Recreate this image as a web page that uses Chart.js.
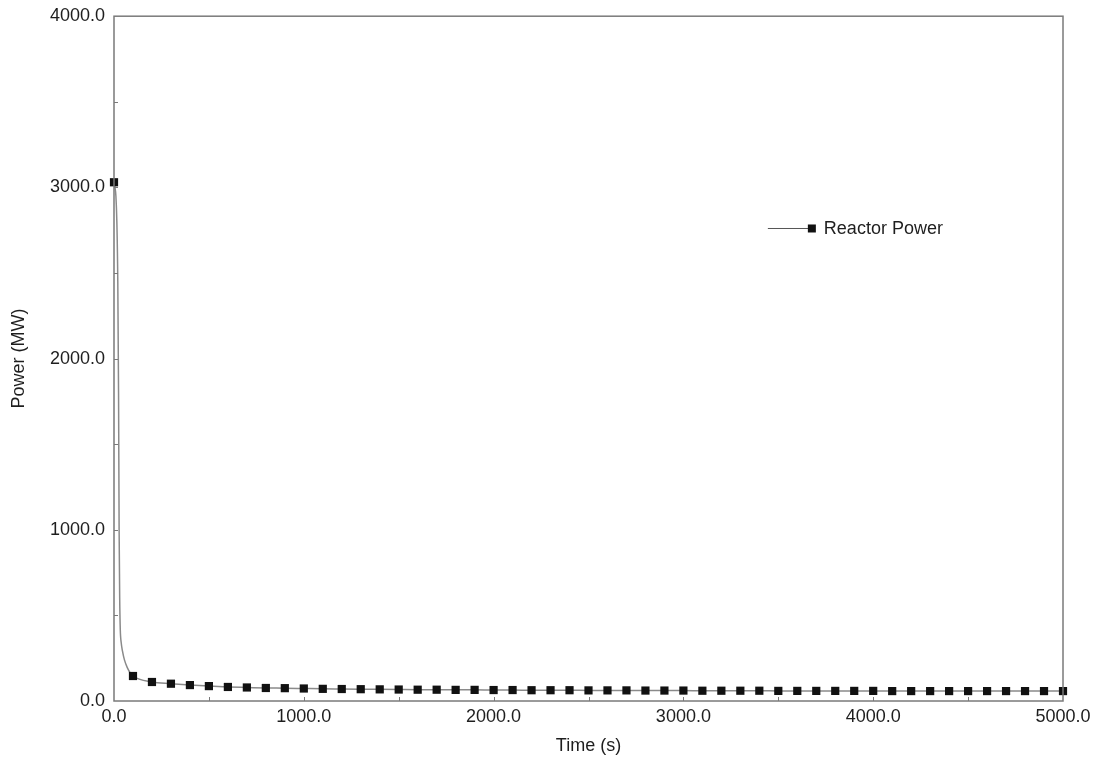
<!DOCTYPE html>
<html>
<head>
<meta charset="utf-8">
<title>Reactor Power</title>
<script src="https://cdn.jsdelivr.net/npm/chart.js@4/dist/chart.umd.min.js"></script>
<style>
  html, body { margin: 0; padding: 0; background: #ffffff; }
  #wrap { width: 1098px; height: 757px; position: relative; }
</style>
</head>
<body>
<div id="wrap"><canvas id="c" width="1098" height="757"></canvas></div>
<script>
// Reactor power transient (MW) versus time (s)
const seriesLabel = 'Reactor Power';

// continuous trace: fast early drop after shutdown
const curveTime  = [0, 5, 10, 15, 20, 24, 27, 30, 33, 38, 45, 55, 70, 85, 100];
const curvePower = [3030, 3000, 2950, 2800, 2450, 1800, 1000, 600, 420, 340, 290, 240, 195, 165, 146];

// sampled markers every 100 s
const markerTime = [0, 100, 200, 300, 400, 500, 600, 700, 800, 900, 1000,
  1100, 1200, 1300, 1400, 1500, 1600, 1700, 1800, 1900, 2000,
  2100, 2200, 2300, 2400, 2500, 2600, 2700, 2800, 2900, 3000,
  3100, 3200, 3300, 3400, 3500, 3600, 3700, 3800, 3900, 4000,
  4100, 4200, 4300, 4400, 4500, 4600, 4700, 4800, 4900, 5000];
const markerPower = [3030, 146, 111, 101, 93, 87, 82, 79, 76, 75, 73,
  71, 70, 69, 68, 67, 66, 66, 65, 65, 64,
  64, 63, 63, 63, 62, 62, 62, 61, 61, 61,
  60, 60, 60, 60, 59, 59, 59, 59, 59, 59,
  58, 58, 58, 58, 58, 58, 58, 58, 58, 58];

const xTicks = [0, 1000, 2000, 3000, 4000, 5000];
const yTicks = [0, 1000, 2000, 3000, 4000];

const lineColor = '#8a8a8a';
const frameColor = '#7a7a7a';
const textColor = '#1e1e1e';
const fontFamily = '"Liberation Sans", Arial, Helvetica, sans-serif';
const fontSize = 18;

// trace beyond the early drop follows the sampled markers
const tracePts = curveTime.map((t, i) => ({x: t, y: curvePower[i]}))
  .concat(markerTime.slice(2).map((t, i) => ({x: t, y: markerPower[i + 2]})));
const markerPts = markerTime.map((t, i) => ({x: t, y: markerPower[i]}));

// frame, inside tick marks and in-plot legend
const framePlugin = {
  id: 'frame',
  afterDatasetsDraw(chart) {
    const {ctx, chartArea: a, scales} = chart;
    ctx.save();
    ctx.strokeStyle = frameColor;
    ctx.lineWidth = 1.5;
    ctx.strokeRect(a.left, a.top, a.right - a.left, a.bottom - a.top);
    ctx.lineWidth = 1;
    for (let v = 500; v < 5000; v += 500) {
      const px = Math.round(scales.x.getPixelForValue(v)) + 0.5;
      ctx.beginPath(); ctx.moveTo(px, a.bottom); ctx.lineTo(px, a.bottom - 4); ctx.stroke();
    }
    for (let v = 500; v < 4000; v += 500) {
      const py = Math.round(scales.y.getPixelForValue(v)) + 0.5;
      ctx.beginPath(); ctx.moveTo(a.left, py); ctx.lineTo(a.left + 4, py); ctx.stroke();
    }
    // legend entry
    const lx = scales.x.getPixelForValue(3445), ly = scales.y.getPixelForValue(2760);
    ctx.strokeStyle = '#555';
    ctx.lineWidth = 1;
    ctx.beginPath(); ctx.moveTo(lx, ly); ctx.lineTo(lx + 42, ly); ctx.stroke();
    ctx.fillStyle = '#111';
    ctx.fillRect(lx + 40, ly - 4, 8, 8);
    ctx.font = fontSize + 'px ' + fontFamily;
    ctx.fillStyle = textColor;
    ctx.textBaseline = 'middle';
    ctx.textAlign = 'left';
    ctx.fillText(seriesLabel, lx + 56, ly + 1);
    ctx.restore();
  }
};

new Chart(document.getElementById('c'), {
  type: 'line',
  data: {
    datasets: [
      {
        label: seriesLabel,
        data: tracePts,
        borderColor: lineColor,
        borderWidth: 1.5,
        pointRadius: 0,
        cubicInterpolationMode: 'monotone',
        fill: false,
        order: 2
      },
      {
        label: seriesLabel + ' markers',
        data: markerPts,
        showLine: false,
        clip: false,
        pointStyle: 'rect',
        pointRadius: 5.8,
        pointBackgroundColor: '#111111',
        pointBorderColor: '#111111',
        pointBorderWidth: 0,
        order: 1
      }
    ]
  },
  options: {
    responsive: false,
    animation: false,
    layout: { padding: { left: 0, right: 35, top: 11, bottom: 0 } },
    plugins: {
      legend: { display: false },
      tooltip: { enabled: false }
    },
    scales: {
      x: {
        type: 'linear',
        min: 0, max: 5000,
        afterBuildTicks: s => { s.ticks = xTicks.map(v => ({value: v})); },
        afterFit: s => { s.height = 56; },
        grid: { display: false, drawTicks: false },
        border: { display: false },
        ticks: {
          color: textColor,
          font: { family: fontFamily, size: fontSize },
          padding: 5,
          maxRotation: 0,
          callback: v => Number(v).toFixed(1)
        },
        title: {
          display: true,
          text: 'Time (s)',
          color: textColor,
          font: { family: fontFamily, size: fontSize },
          padding: { top: 0, bottom: 0 }
        }
      },
      y: {
        type: 'linear',
        min: 0, max: 4000,
        afterBuildTicks: s => { s.ticks = yTicks.map(v => ({value: v})); },
        afterFit: s => { s.width = 114; },
        grid: { display: false, drawTicks: false },
        border: { display: false },
        ticks: {
          color: textColor,
          font: { family: fontFamily, size: fontSize, lineHeight: 0.8 },
          padding: 9,
          callback: v => Number(v).toFixed(1)
        },
        title: {
          display: true,
          text: 'Power (MW)',
          color: textColor,
          font: { family: fontFamily, size: fontSize },
          padding: { top: 8, bottom: 0 }
        }
      }
    }
  },
  plugins: [framePlugin]
});
</script>
</body>
</html>
